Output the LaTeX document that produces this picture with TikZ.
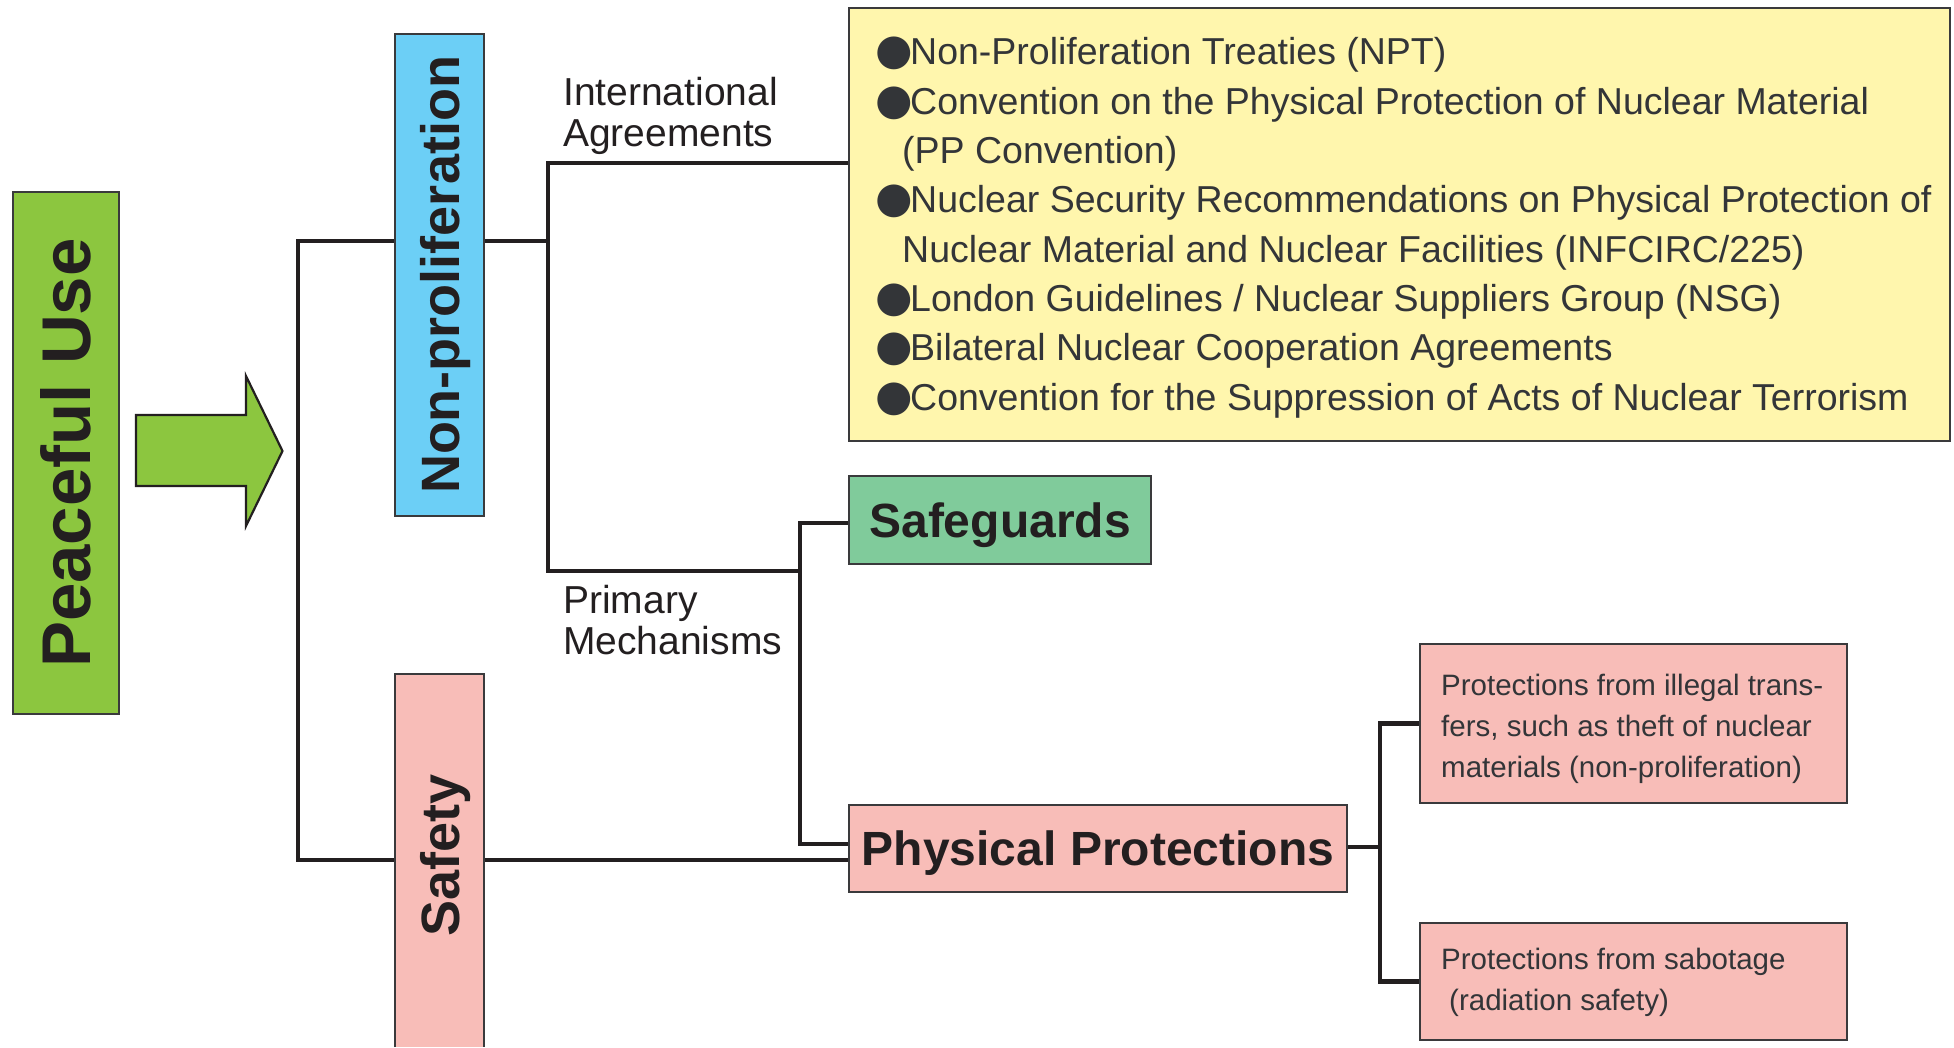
\documentclass[tikz,border=0pt]{standalone}
\usepackage{fontspec}
\setmainfont{Liberation Sans}
\newfontfamily\symfont{DejaVu Sans}
\definecolor{pugreen}{HTML}{8CC63F}
\definecolor{npblue}{HTML}{6CCFF6}
\definecolor{sfpink}{HTML}{F8BDB8}
\definecolor{ylw}{HTML}{FFF6AD}
\definecolor{sggreen}{HTML}{80CB9B}
\definecolor{ink}{HTML}{231F20}
\definecolor{boxline}{HTML}{3A3A3C}
\definecolor{txt}{HTML}{333538}
\pgfdeclarelayer{bgzero}
\pgfdeclarelayer{bgone}
\pgfsetlayers{bgzero,bgone,main}
\newcommand{\bul}{\makebox[35pt][l]{\symfont\fontsize{43}{43}\selectfont ●}}
\newcommand{\upword}[1]{\rotatebox{90}{\raisebox{0pt}[\height][0pt]{#1}}}
\tikzset{
  box/.style={draw=boxline, line width=2.2pt, inner sep=0pt, text=ink},
  conn/.style={draw=ink, line width=4.5pt, line join=miter},
  bigbold/.style={font=\fontsize{54}{54}\selectfont\bfseries},
  midbold/.style={font=\fontsize{48}{48}\selectfont\bfseries, text depth=0pt},
  lbl/.style={font=\fontsize{39}{41}\selectfont, align=left, inner sep=0pt, text=ink},
  sm/.style={font=\fontsize{29.5}{41}\selectfont, align=left, inner sep=0pt, text=txt},
}
\begin{document}
\begin{tikzpicture}[x=1pt,y=-1pt]
\begin{pgfonlayer}{bgzero}
\fill[white] (0,0) rectangle (1954,1047);
\end{pgfonlayer}
\useasboundingbox (0,0) rectangle (1954,1047);

% Peaceful Use
\node[box, fill=pugreen, minimum width=106pt, minimum height=522pt,
      font=\fontsize{69}{69}\selectfont\bfseries] (pu) at (66,453) {\upword{Peaceful Use}};
% big arrow
\draw[draw=ink, line width=2.2pt, fill=pugreen, line join=miter]
  (136,415) -- (246,415) -- (246,376) -- (282.5,451) -- (246,526) -- (246,486) -- (136,486) -- cycle;

% Non-proliferation
\node[box, fill=npblue, minimum width=89pt, minimum height=482pt, bigbold] (np) at (439.5,275)
  {\upword{Non-proliferation}};
% Safety (runs off the bottom)
\node[fill=sfpink, minimum width=89pt, minimum height=373pt, inner sep=0pt, text=ink, bigbold] (sf) at (439.5,860.5)
  {\upword{\hspace*{11pt}Safety}};
\draw[draw=boxline, line width=2.2pt] (sf.south west) -- (sf.north west) -- (sf.north east) -- (sf.south east);

% yellow list
\node[box, fill=ylw, minimum width=1101pt, minimum height=433pt] (yb) at (1399.5,224.5) {};
\node[anchor=base west, align=left, inner sep=0pt, font=\fontsize{37.5}{49.3}\selectfont, text=txt] (ybt) at (875,410)
  {\bul Non-Proliferation Treaties (NPT)\\
   \bul Convention on the Physical Protection of Nuclear Material\\
   \hspace*{27pt}(PP Convention)\\
   \bul Nuclear Security Recommendations on Physical Protection of\\
   \hspace*{27pt}Nuclear Material and Nuclear Facilities (INFCIRC/225)\\
   \bul London Guidelines / Nuclear Suppliers Group (NSG)\\
   \bul Bilateral Nuclear Cooperation Agreements\\
   \bul Convention for the Suppression of Acts of Nuclear Terrorism};

% Safeguards and Physical Protections
\node[box, fill=sggreen, minimum width=302pt, minimum height=88pt, midbold] (sg) at (1000,520) {Safeguards};
\node[box, fill=sfpink, minimum width=498pt, minimum height=87pt, midbold] (pp) at (1098,848.5) {Physical Protections};

% sub boxes
\node[box, fill=sfpink, minimum width=427pt, minimum height=159pt] (b1) at (1633.5,723.5) {};
\node[sm, anchor=base west] (b1t) at (1441,777)
  {Protections from illegal trans-\\fers, such as theft of nuclear\\materials (non-proliferation)};
\node[box, fill=sfpink, minimum width=427pt, minimum height=117pt] (b2) at (1633.5,981.5) {};
\node[sm, anchor=base west] (b2t) at (1441,1010)
  {Protections from sabotage\\\hspace*{8pt}(radiation safety)};

% labels
\node[lbl, anchor=base west] (ia) at (563,146) {International\\Agreements};
\node[lbl, anchor=base west] (pm) at (563,654) {Primary\\Mechanisms};

% connectors
\coordinate (ja) at (298,241);
\coordinate (jb) at (298,860);
\coordinate (jc) at (548,241);
\coordinate (jd) at (548,163);
\coordinate (je) at (548,571);
\coordinate (jf) at (800,571);
\coordinate (jg) at (800,523);
\coordinate (jh) at (800,844);
\coordinate (jk) at (1380,847);
\begin{pgfonlayer}{bgone}
\draw[conn] (np.west |- ja) -- (ja) -- (jb) -- (sf.west |- jb);
\draw[conn] (sf.east |- jb) -- (pp.west |- jb);
\draw[conn] (np.east |- jc) -- (jc);
\draw[conn] (yb.west |- jd) -- (jd) -- (je) -- (jf);
\draw[conn] (sg.west |- jg) -- (jg) -- (jh) -- (pp.west |- jh);
\draw[conn] (pp.east |- jk) -- (jk);
\draw[conn] (b1.west) -| (jk) |- (b2.west);
\end{pgfonlayer}
\end{tikzpicture}
\end{document}
